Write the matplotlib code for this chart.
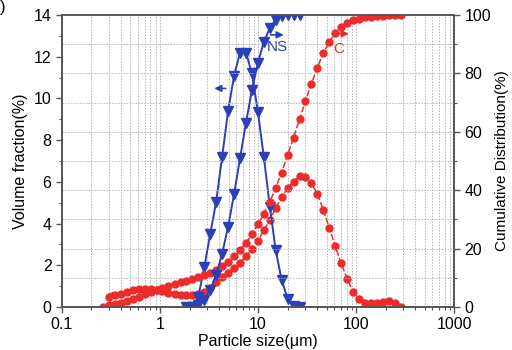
import matplotlib.pyplot as plt
from matplotlib.ticker import MultipleLocator, FuncFormatter, LogLocator

plt.rcParams['font.family'] = ['Liberation Sans', 'DejaVu Sans']

# cement (C): volume fraction, left axis
c_size = [0.302, 0.347, 0.399, 0.459, 0.528, 0.607, 0.698, 0.803, 0.924, 1.06,
          1.22, 1.41, 1.62, 1.86, 2.14, 2.46, 2.83, 3.25, 3.74, 4.30,
          4.95, 5.70, 6.55, 7.53, 8.66, 9.96, 11.45, 13.2, 15.1, 17.4,
          20.0, 23.0, 26.5, 30.4, 35.0, 40.3, 46.3, 53.3, 61.3, 70.4,
          81.0, 93.2, 107, 123, 142, 163, 187, 215, 248, 285]
c_vol = [0.50, 0.55, 0.62, 0.70, 0.80, 0.85, 0.88, 0.88, 0.82, 0.75,
         0.68, 0.62, 0.57, 0.55, 0.55, 0.60, 0.72, 0.92, 1.20, 1.45,
         1.65, 1.88, 2.11, 2.45, 2.80, 3.16, 3.70, 4.15, 4.75, 5.25,
         5.72, 6.00, 6.28, 6.25, 5.95, 5.42, 4.65, 3.80, 2.90, 2.10,
         1.35, 0.72, 0.38, 0.20, 0.19, 0.20, 0.25, 0.28, 0.20, 0.0]

# cement (C): cumulative distribution, right axis
c_cum_size = [0.262] + c_size
c_cum = [0.0, 0.5, 1.0, 1.5, 2.1, 2.8, 3.5, 4.3, 5.0, 5.8, 6.5,
         7.2, 7.8, 8.4, 9.0, 9.5, 10.1, 10.8, 11.6, 12.7, 14.0,
         15.5, 17.3, 19.5, 22.0, 25.0, 28.3, 32.0, 36.0, 40.8, 46.0,
         52.0, 58.0, 64.3, 70.5, 76.5, 82.0, 87.0, 90.8, 93.8, 95.9,
         97.3, 98.2, 98.8, 99.2, 99.5, 99.7, 99.8, 99.9, 100, 100]

# nano silica (NS)
ns_size = [1.86, 2.14, 2.46, 2.83, 3.25, 3.74, 4.30, 4.95, 5.70, 6.55,
           7.53, 8.66, 9.96, 11.45, 13.2, 15.1, 17.4, 20.0, 23.0, 26.5]
ns_vol = [0.0, 0.0, 0.5, 1.9, 3.5, 5.05, 7.2, 9.4, 11.1, 12.2,
          12.2, 11.2, 9.36, 7.2, 4.8, 2.75, 1.29, 0.4, 0.05, 0.0]
ns_cum_size = ns_size[1:]
ns_cum = [0.0, 0.5, 2.4, 5.9, 11.0, 18.2, 27.5, 38.7, 50.9, 63.1,
          74.3, 83.6, 90.8, 95.6, 98.4, 99.6, 100, 100, 100]

red = '#ee2b2b'
blue = '#2a3fb8'

fig = plt.figure(figsize=(5.12, 3.5), dpi=100)
ax = fig.add_axes([0.121, 0.123, 0.766, 0.834])
ax2 = ax.twinx()

ax.plot(c_size, c_vol, color=red, lw=1.1, ls=(0, (4, 1.5)), marker='o', ms=5, mec=red, mfc=red)
ax2.plot(c_cum_size, c_cum, color=red, lw=1.1, ls=(0, (4, 1.5)), marker='o', ms=5, mec=red, mfc=red)
ax.plot(ns_size, ns_vol, color=blue, lw=1.4, marker='v', ms=6.5, mec=blue, mfc=blue)
ax2.plot(ns_cum_size, ns_cum, color=blue, lw=1.4, marker='v', ms=6.5, mec=blue, mfc=blue)

ax.set_xscale('log')
ax.set_xlim(0.1, 1000)
ax.set_ylim(0, 14)
ax2.set_ylim(0, 100)
ax.xaxis.set_major_formatter(FuncFormatter(lambda v, p: '{:g}'.format(v)))
ax.xaxis.set_minor_locator(LogLocator(base=10, subs=range(2, 10)))
ax.yaxis.set_major_locator(MultipleLocator(2))
ax.yaxis.set_minor_locator(MultipleLocator(1))
ax2.yaxis.set_major_locator(MultipleLocator(20))
ax2.yaxis.set_minor_locator(MultipleLocator(10))

grid_kw = dict(color='#b4b4b4', lw=0.7, ls=(0, (1.5, 1.5)))
ax.grid(True, which='both', axis='x', **grid_kw)
ax2.grid(True, which='both', axis='y', **grid_kw)

for a in (ax, ax2):
    for s in a.spines.values():
        s.set_color('#555555')
        s.set_linewidth(1.2)
    a.tick_params(which='major', length=4, width=1, color='#555555', labelsize=11.5)
    a.tick_params(which='minor', length=2.5, width=0.8, color='#555555')

ax.set_xlabel('Particle size(μm)', fontsize=11.5, labelpad=1)
ax.set_ylabel('Volume fraction(%)', fontsize=11.5)
ax2.set_ylabel('Cumulative Distribution(%)', fontsize=11, labelpad=3)

arr = dict(arrowstyle='-|>', lw=1.2, mutation_scale=10)
ax.annotate('', xy=(3.35, 10.48), xytext=(5.0, 10.48), arrowprops=dict(arr, color=blue))
ax.annotate('', xy=(19.5, 13.05), xytext=(12.6, 13.05), arrowprops=dict(arr, color=blue))
ax.text(15.6, 12.45, 'NS', color=blue, fontsize=11, ha='center', va='center')
ax.annotate('', xy=(90, 13.1), xytext=(56, 13.1), arrowprops=dict(arr, color=red))
ax.text(66, 12.35, 'C', color=red, fontsize=11, ha='center', va='center')
ax.annotate('', xy=(0.26, 0.55), xytext=(0.38, 0.55), arrowprops=dict(arr, color=red))

fig.text(0.0, 1.0, ')', fontsize=12, ha='left', va='top')

fig.savefig('out.png', dpi=100)
